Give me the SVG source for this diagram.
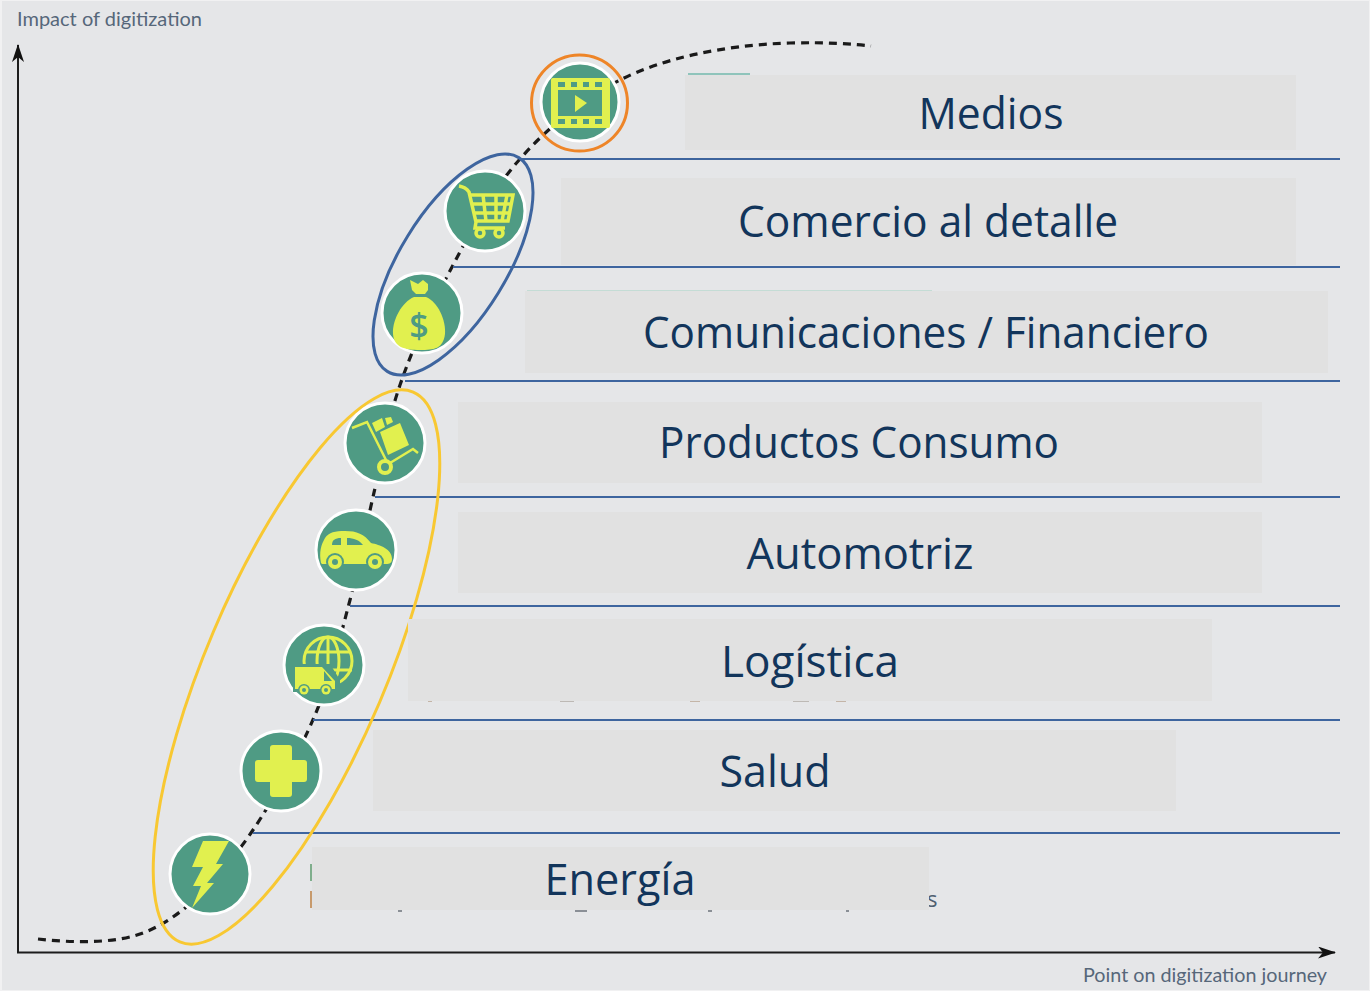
<svg xmlns="http://www.w3.org/2000/svg" width="1370" height="991" viewBox="0 0 1370 991">
<style>
.lab{font-family:"Open Sans","Noto Sans",sans-serif;font-size:44px;fill:#12355b;text-anchor:middle}
.ax{font-family:Lato,"Open Sans",sans-serif;font-size:20px;fill:#56677a}
.box{fill:#e1e1e1}
.rule{stroke:#3e659f;stroke-width:2;fill:none}
.disc{fill:#4f9b84;stroke:#fff;stroke-width:3}
.ic{fill:#e1f04f}
.il{fill:none;stroke:#e1f04f}
.gr{fill:#4f9b84}
</style>
<defs>
<marker id="ah" markerWidth="20" markerHeight="14" refX="17" refY="6" orient="auto" markerUnits="userSpaceOnUse"><path d="M0 0L18 6L0 12L5 6Z" fill="#111"/></marker>
</defs>
<rect width="1370" height="991" fill="#f1f1f2"/>
<rect x="2" y="1" width="1367" height="989" fill="#e5e6e8"/>
<g id="axes" fill="none" stroke="#1c1c1c" stroke-width="2">
<path d="M18 953V45" marker-end="url(#ah)"/>
<path d="M17 952.500H1335" marker-end="url(#ah)"/>
</g>
<text class="ax" x="17" y="26">Impact of digitization</text>
<text class="ax" x="1083" y="982" textLength="244" lengthAdjust="spacingAndGlyphs">Point on digitization journey</text>
<g id="remnants">
<rect x="688" y="73" width="62" height="2" fill="#8fc4bb"/>
<rect x="527" y="290" width="405" height="1.500" fill="#c4dcd5"/>
<rect x="310" y="864" width="2" height="17" fill="#7fae8c"/>
<rect x="310" y="891" width="2" height="17" fill="#c79a6c"/>
<rect x="428" y="701" width="4" height="1" fill="#c4b5a8"/>
<rect x="560" y="701" width="14" height="1" fill="#bdb9b5"/>
<rect x="690" y="701" width="10" height="1" fill="#c4b5a8"/>
<rect x="793" y="701" width="16" height="1" fill="#bdb9b5"/>
<rect x="836" y="701" width="10" height="1" fill="#c4b5a8"/>
<rect x="398" y="910" width="4" height="2" fill="#8a8f96"/>
<rect x="575" y="910" width="12" height="2" fill="#8a8f96"/>
<rect x="708" y="910" width="4" height="2" fill="#8a8f96"/>
<rect x="846" y="910" width="3" height="2" fill="#8a8f96"/>
<text x="927" y="907" font-family="'Open Sans',sans-serif" font-size="22" fill="#4f6070">s</text>
</g>
<g id="connectors">
<path d="M38 939C65 942 95 943 120 939C145 935 165 924 185 908C205.500 890 231.300 862.200 253 830C274.700 797.800 298.800 753.300 315 715C331.200 676.700 340.300 636.300 350 600C359.700 563.700 364.700 532.800 373 497C381.300 461.200 386.800 423.300 400 385C413.200 346.700 432 304.700 452 267C472 229.300 492 190.200 520 159C548 127 585 97 622 79C660 60 720 45 790 43C825 42 855 44 871 46" fill="none" stroke="#1a1a1a" stroke-width="3.200" stroke-dasharray="8 6"/>
<path class="rule" d="M520 159H1340M453 267H1340M405 381H1340M375 497H1340M350 606H1340M313 720H1340M253 833H1340"/>
<ellipse cx="453" cy="264.500" rx="53.500" ry="125.500" transform="rotate(31.600 453 264.500)" fill="none" stroke="#3e659f" stroke-width="3"/>
<ellipse cx="296.500" cy="667" rx="90.300" ry="298.600" transform="rotate(23 296.500 667)" fill="none" stroke="#f8c832" stroke-width="3"/>
<circle cx="579.500" cy="103" r="48" fill="none" stroke="#ee8528" stroke-width="3"/>
</g>
<g id="medios">
<rect class="box" x="685" y="75" width="611" height="75"/>
<text class="lab" x="991" y="129" textLength="145" lengthAdjust="spacingAndGlyphs">Medios</text>
<circle class="disc" cx="580" cy="102" r="39"/>
<rect class="ic" x="551" y="78" width="59" height="50" rx="2"/>
<rect class="gr" x="558" y="90" width="44" height="26"/>
<path class="gr" d="M558 82h7v5h-7zM571 82h6v5h-6zM583 82h6v5h-6zM595 82h7v5h-7zM558 119h7v5h-7zM571 119h6v5h-6zM583 119h6v5h-6zM595 119h7v5h-7z"/>
<path class="ic" d="M575 95L587 103L575 112Z"/>
</g>
<g id="comercio">
<rect class="box" x="561" y="178" width="735" height="87"/>
<text class="lab" x="928" y="237" textLength="380" lengthAdjust="spacingAndGlyphs">Comercio al detalle</text>
<circle class="disc" cx="485" cy="211" r="40"/>
<path class="il" stroke-width="3.500" d="M459 186C465 187 467 189 469 192L476 222L475 228H505"/>
<path class="il" stroke-width="3.500" d="M471 195H513L508 221H476M473 204H511M475 213H509M483 195L486 221M496 195V221M507 195L502 221"/>
<circle class="il" stroke-width="3.500" cx="480" cy="233" r="4"/>
<circle class="il" stroke-width="3.500" cx="499" cy="233" r="4"/>
</g>
<g id="comunicaciones">
<rect class="box" x="525" y="291" width="803" height="82"/>
<text class="lab" x="926" y="348" textLength="566" lengthAdjust="spacingAndGlyphs">Comunicaciones / Financiero</text>
<circle class="disc" cx="422" cy="313" r="40"/>
<path class="ic" d="M410 280L418 284L423 280L428 284L428 290L425 294H416L412 290Z"/>
<path class="ic" d="M414 297H426C438 302 446 320 445 334C443 349 434 350 420 350C404 350 394 347 393 334C392 320 402 302 414 297Z"/>
<text x="419" y="338" font-family="'Open Sans',sans-serif" font-size="34" font-weight="600" fill="#4f9b84" text-anchor="middle">$</text>
</g>
<g id="productos">
<rect class="box" x="458" y="402" width="804" height="81"/>
<text class="lab" x="859" y="458" textLength="400" lengthAdjust="spacingAndGlyphs">Productos Consumo</text>
<circle class="disc" cx="385" cy="443" r="40"/>
<path class="il" stroke-width="2.500" d="M352 428L367 422L387 462M390 463L413 449L418 453"/>
<circle class="il" stroke-width="4" cx="385" cy="467" r="6"/>
<path class="ic" d="M380 432L400 423L409 445L388 455Z"/>
<path class="ic" d="M372 423L382 418L385 427L376 432ZM385 418L391 417L393 422L387 425Z"/>
</g>
<g id="automotriz">
<rect class="box" x="458" y="512" width="804" height="81"/>
<text class="lab" x="860" y="569" textLength="227" lengthAdjust="spacingAndGlyphs">Automotriz</text>
<circle class="disc" cx="356" cy="550" r="40"/>
<path class="ic" d="M321 563C319 552 321 545 325 538C329 532 335 531 345 531C357 531 364 534 371 543C380 545 392 549 392 559C392 564 388 564 385 564H322Z"/>
<path class="gr" d="M332 545C332 540 335 538 341 538V545ZM347 538C354 538 359 540 363 545H347Z"/>
<circle class="gr" cx="335" cy="562" r="9"/><circle class="ic" cx="335" cy="562" r="7"/><circle class="gr" cx="335" cy="562" r="3"/>
<circle class="gr" cx="375" cy="562" r="9"/><circle class="ic" cx="375" cy="562" r="7"/><circle class="gr" cx="375" cy="562" r="3"/>
</g>
<g id="logistica">
<rect class="box" x="408" y="619" width="804" height="82"/>
<text class="lab" x="810" y="677" textLength="178" lengthAdjust="spacingAndGlyphs">Logística</text>
<circle class="disc" cx="324" cy="665" r="40"/>
<circle class="il" stroke-width="3" cx="328" cy="661" r="24"/>
<ellipse class="il" stroke-width="3" cx="328" cy="661" rx="11" ry="24"/>
<path class="il" stroke-width="3" d="M328 637V685M305 652H351M304 670H352"/>
<path class="gr" d="M293 664H330L340 680V692H293Z"/>
<path class="ic" d="M295 667H322L335 681V689H295Z"/>
<path class="gr" d="M324 671L332 681H324Z"/>
<circle class="gr" cx="304" cy="690" r="6"/><circle class="ic" cx="304" cy="690" r="4.500"/><circle class="gr" cx="304" cy="690" r="2"/>
<circle class="gr" cx="326" cy="690" r="6"/><circle class="ic" cx="326" cy="690" r="4.500"/><circle class="gr" cx="326" cy="690" r="2"/>
</g>
<g id="salud">
<rect class="box" x="373" y="730" width="803" height="81"/>
<text class="lab" x="775" y="787" textLength="111" lengthAdjust="spacingAndGlyphs">Salud</text>
<circle class="disc" cx="281" cy="771" r="40"/>
<path class="ic" d="M273 745H289Q292 745 292 748V760H304Q307 760 307 763V779Q307 782 304 782H292V794Q292 797 289 797H273Q270 797 270 794V782H258Q255 782 255 779V763Q255 760 258 760H270V748Q270 745 273 745Z"/>
</g>
<g id="energia">
<rect class="box" x="312" y="847" width="617" height="63"/>
<text class="lab" x="620" y="895" textLength="151" lengthAdjust="spacingAndGlyphs">Energía</text>
<circle class="disc" cx="210" cy="874" r="40"/>
<path class="ic" d="M203 841H229L216 864H223L207 883H214L192 908L201 886H193L203 867H192Z"/>
</g>
</svg>
